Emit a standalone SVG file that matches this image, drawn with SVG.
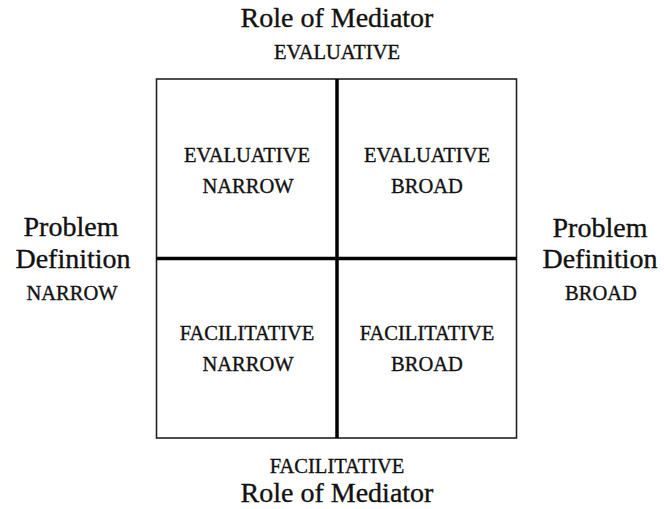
<svg xmlns="http://www.w3.org/2000/svg" width="664" height="509" viewBox="0 0 664 509">
<style>
text{font-family:"Liberation Serif","Times New Roman",serif;fill:#111;stroke:#111;stroke-width:0.35;text-anchor:middle}
.big{font-size:28px}
.sc{font-size:20.5px}
.box{fill:none;stroke:#222;stroke-width:1.6}
.div{stroke:#000;stroke-width:3.5}
</style>
<rect width="664" height="509" fill="#fff"/>
<g id="frame">
<rect class="box" x="156.5" y="79" width="360" height="359"/>
</g>
<g id="connectors">
<line class="div" x1="337" y1="79" x2="337" y2="438"/>
<line class="div" x1="156.5" y1="258.5" x2="516.5" y2="258.5"/>
</g>
<g id="top-label">
<text class="big" x="337" y="27">Role of Mediator</text>
<text class="sc" x="337" y="59">EVALUATIVE</text>
</g>
<g id="bottom-label">
<text class="sc" x="337" y="473">FACILITATIVE</text>
<text class="big" x="337" y="502">Role of Mediator</text>
</g>
<g id="left-label">
<text class="big" x="71" y="236">Problem</text>
<text class="big" x="73" y="268">Definition</text>
<text class="sc" x="72" y="300">NARROW</text>
</g>
<g id="right-label">
<text class="big" x="600" y="237">Problem</text>
<text class="big" x="600" y="268">Definition</text>
<text class="sc" x="601" y="300">BROAD</text>
</g>
<g id="cell-eval-narrow">
<text class="sc" x="247" y="162">EVALUATIVE</text>
<text class="sc" x="248" y="193">NARROW</text>
</g>
<g id="cell-eval-broad">
<text class="sc" x="427" y="162">EVALUATIVE</text>
<text class="sc" x="427" y="193">BROAD</text>
</g>
<g id="cell-fac-narrow">
<text class="sc" x="247" y="340">FACILITATIVE</text>
<text class="sc" x="248" y="371">NARROW</text>
</g>
<g id="cell-fac-broad">
<text class="sc" x="427" y="340">FACILITATIVE</text>
<text class="sc" x="427" y="371">BROAD</text>
</g>
</svg>
